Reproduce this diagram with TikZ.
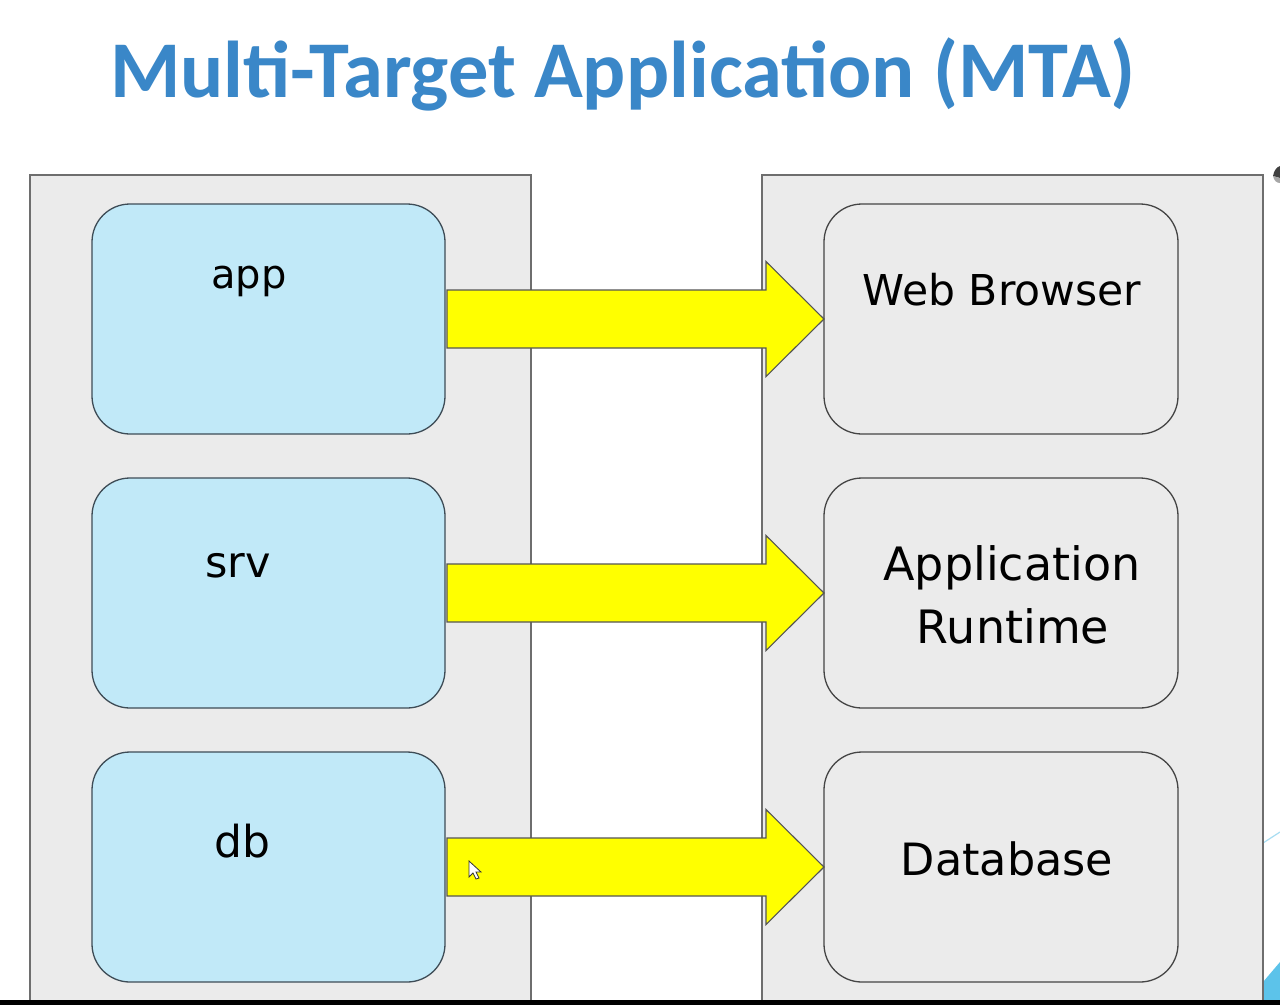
\documentclass[tikz,border=0pt]{standalone}
\usepackage{fontspec}
\setmainfont{DejaVu Sans}
\newfontfamily\titlefont{Carlito}
\usetikzlibrary{calc}

\definecolor{titleblue}{HTML}{3A87C8}
\definecolor{panelgray}{HTML}{EBEBEB}
\definecolor{paneledge}{HTML}{6E6E6E}
\definecolor{srcfill}{HTML}{C1E9F8}
\definecolor{srcedge}{HTML}{3E4C56}
\definecolor{tgtedge}{HTML}{454545}
\definecolor{arrowfill}{HTML}{FFFF00}
\definecolor{arrowedge}{HTML}{555555}
\definecolor{decoblue}{HTML}{5CC3EA}
\definecolor{decoline}{HTML}{A8DDF2}

\newcommand{\fsz}[1]{\fontsize{#1}{1.2\dimexpr#1pt\relax}\selectfont}

\tikzset{
  panel/.style={fill=panelgray, draw=paneledge, line width=1.6pt},
  srcbox/.style={fill=srcfill, draw=srcedge, line width=1.3pt, rounded corners=38pt,
    minimum width=353pt, minimum height=230pt, inner sep=0pt, outer sep=0pt},
  tgtbox/.style={fill=panelgray, draw=tgtedge, line width=1.3pt, rounded corners=38pt,
    minimum width=354pt, minimum height=230pt, inner sep=0pt, outer sep=0pt},
  boxtext/.style={anchor=base, inner sep=0pt},
  bigarrow/.style={fill=arrowfill, draw=arrowedge, line width=1.1pt, line join=miter},
}

\begin{document}
\begin{tikzpicture}[x=1pt, y=-1pt]
  % canvas
  \fill[white] (0,0) rectangle (1280,1005);
  \useasboundingbox (0,0) rectangle (1280,1005);

  % title
  \node[anchor=base, inner sep=0pt, text=titleblue,
        font=\titlefont\bfseries\fsz{80.5}] (title) at (623,97)
        {Multi-Target Application (MTA)};

  % slide decorations at the right edge
  \fill[black!75] (1273,176) .. controls (1274,170) and (1277,167) .. (1280,166) -- (1280,178) -- cycle;
  \fill[black!35] (1273,176) .. controls (1274,181) and (1277,183) .. (1280,183) -- (1280,178) -- cycle;
  \draw[decoline, line width=1.2pt] (1263,843) -- (1280,832);
  \fill[decoblue] (1263,982) -- (1280,962) -- (1280,1000) -- (1263,1000) -- cycle;

  % the two panels
  \draw[panel] (30,1002) -- (30,175) -- (531,175) -- (531,1002);
  \draw[panel] (762,1002) -- (762,175) -- (1263,175) -- (1263,1002);

  % module boxes
  \node[srcbox] (app) at (268.5,319) {};
  \node[srcbox] (srv) at (268.5,593) {};
  \node[srcbox] (db)  at (268.5,867) {};

  % target boxes
  \node[tgtbox] (web) at (1001,319) {};
  \node[tgtbox] (rt)  at (1001,593) {};
  \node[tgtbox] (dbase) at (1001,867) {};

  % labels
  \node[boxtext, font=\fsz{40}] (appt) at (249,288) {app};
  \node[boxtext, font=\fsz{43}] (srvt) at (238,577) {srv};
  \node[boxtext, font=\fsz{44}] (dbt)  at (242,857) {db};
  \node[boxtext, font=\fsz{42.5}] (webt) at (1002,305) {Web Browser};
  \node[boxtext, font=\fsz{46}] (rtt1) at (1012,580) {Application};
  \node[boxtext, font=\fsz{46}] (rtt2) at (1013,643) {Runtime};
  \node[boxtext, font=\fsz{44.5}] (dbaset) at (1007,875) {Database};

  % deployment arrows
  \foreach \s/\t in {app/web, srv/rt, db/dbase} {
    \draw[bigarrow]
      ($(\s.east)+(2,-29)$) -- ($(\t.west)+(-58,-29)$) -- ($(\t.west)+(-58,-57.5)$)
      -- (\t.west)
      -- ($(\t.west)+(-58,57.5)$) -- ($(\t.west)+(-58,29)$) -- ($(\s.east)+(2,29)$) -- cycle;
  }

  % mouse pointer
  \draw[fill=white, draw=black!80, line width=0.8pt, line join=miter]
    (469,861) -- (469,877) -- (473,873) -- (476,879) -- (479,878) -- (476,872) -- (481,872) -- cycle;

  % bottom bar
  \fill[black] (0,1000) rectangle (1280,1005);
\end{tikzpicture}
\end{document}
